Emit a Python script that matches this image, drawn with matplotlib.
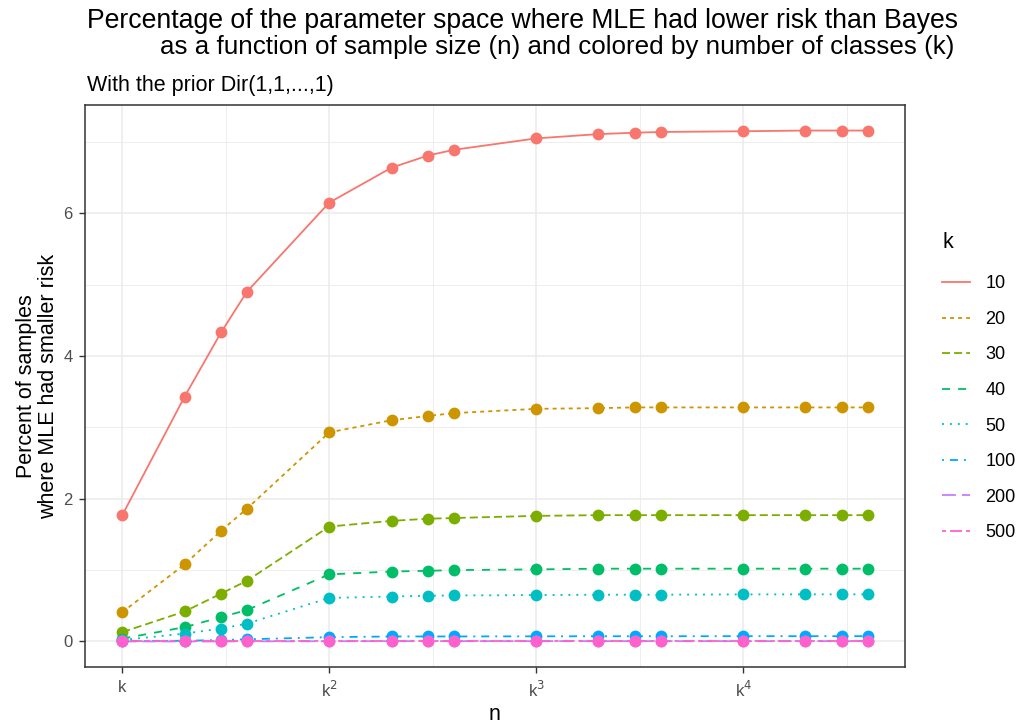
import numpy as np
import matplotlib
matplotlib.use("Agg")
import matplotlib.pyplot as plt

plt.rcParams['font.family'] = ['Liberation Sans', 'DejaVu Sans']
plt.rcParams['lines.scale_dashes'] = False

# n = m * k^p  (m = 1..4, p = 1..4), shown on a log scale with k = 10
n = [10, 20, 30, 40, 100, 200, 300, 400,
     1000, 2000, 3000, 4000, 10000, 20000, 30000, 40000]

k_levels = ['10', '20', '30', '40', '50', '100', '200', '500']

pct_10 = [1.77, 3.43, 4.33, 4.90, 6.15, 6.64, 6.81, 6.89,
          7.05, 7.11, 7.13, 7.14, 7.15, 7.16, 7.16, 7.16]
pct_20 = [0.41, 1.08, 1.55, 1.86, 2.93, 3.10, 3.16, 3.20,
          3.26, 3.27, 3.28, 3.28, 3.28, 3.28, 3.28, 3.28]
pct_30 = [0.13, 0.42, 0.67, 0.85, 1.61, 1.69, 1.72, 1.73,
          1.76, 1.77, 1.77, 1.77, 1.77, 1.77, 1.77, 1.77]
pct_40 = [0.04, 0.20, 0.34, 0.44, 0.94, 0.98, 0.99, 1.00,
          1.01, 1.02, 1.02, 1.02, 1.02, 1.02, 1.02, 1.02]
pct_50 = [0.02, 0.11, 0.18, 0.25, 0.61, 0.63, 0.64, 0.645,
          0.65, 0.655, 0.655, 0.655, 0.66, 0.66, 0.66, 0.66]
pct_100 = [0.005, 0.01, 0.02, 0.03, 0.06, 0.07, 0.07, 0.07,
           0.072, 0.073, 0.073, 0.073, 0.074, 0.074, 0.074, 0.074]
pct_200 = [0.0, 0.0, 0.0, 0.001, 0.003, 0.004, 0.004, 0.004,
           0.004, 0.004, 0.004, 0.004, 0.004, 0.004, 0.004, 0.004]
pct_500 = [0.0] * 16

series = [pct_10, pct_20, pct_30, pct_40, pct_50, pct_100, pct_200, pct_500]

colors = ['#F8766D', '#CD9600', '#7CAE00', '#00BE67',
          '#00BFC4', '#00A9FF', '#C77CFF', '#FF61CC']
dashes = [None, (2.9, 2.9), (5.8, 2.9), (5.8, 5.8), (1.4, 4.3),
          (1.4, 4.3, 5.8, 4.3), (10, 4.3), (2.9, 2.9, 8.6, 2.9)]

fig = plt.figure(figsize=(10.23, 7.25), dpi=100)
ax = fig.add_axes([85/1023, 58/725, 820/1023, 562/725])

lw = 1.3
handles = []
for vals, c, d, lab in zip(series, colors, dashes, k_levels):
    if d is None:
        h, = ax.plot(n, vals, color=c, lw=lw, label=lab, zorder=2)
    else:
        h, = ax.plot(n, vals, color=c, lw=lw, dashes=d, label=lab, zorder=2)
    handles.append(h)
for vals, c in zip(series, colors):
    ax.plot(n, vals, 'o', color=c, ms=8.5, mec='none', zorder=3)

ax.set_xscale('log')
lo, hi = np.log10(n[0]), np.log10(n[-1])
ex = 0.05 * (hi - lo)
ax.set_xlim(10 ** (lo - ex), 10 ** (hi + ex))
ymax = max(pct_10)
ax.set_ylim(-0.05 * ymax, ymax * 1.05)

ax.set_xticks([10, 100, 1000, 10000])
ax.set_xticklabels(['k', 'k$^2$', 'k$^3$', 'k$^4$'])
ax.set_xticks([10 ** 1.5, 10 ** 2.5, 10 ** 3.5, 10 ** 4.5], minor=True)
ax.set_yticks([0, 2, 4, 6])
ax.set_yticks([1, 3, 5, 7], minor=True)
ax.xaxis.set_minor_formatter(matplotlib.ticker.NullFormatter())

ax.grid(which='major', color='#EBEBEB', lw=1.1, zorder=0)
ax.grid(which='minor', color='#EBEBEB', lw=0.6, zorder=0)
ax.set_axisbelow(True)
ax.tick_params(which='major', length=4, width=1, color='#333333',
               labelcolor='#4D4D4D', labelsize=12, pad=5)
ax.tick_params(which='minor', length=0)
for s in ax.spines.values():
    s.set_color('#333333')
    s.set_linewidth(1.1)

ax.set_xlabel('n', fontsize=15.5, labelpad=3)
ax.set_ylabel('Percent of samples\nwhere MLE had smaller risk', fontsize=15.5,
              labelpad=3, linespacing=1.05)

fig.text(87/1023, 1 - 28/725, 'Percentage of the parameter space where MLE had lower risk than Bayes',
         fontsize=19.2, va='baseline', ha='left')
fig.text(160/1023, 1 - 54/725, 'as a function of sample size (n) and colored by number of classes (k)',
         fontsize=18.7, va='baseline', ha='left')
fig.text(87/1023, 1 - 85/725, 'With the prior Dir(1,1,...,1)', fontsize=15.5,
         va='center', ha='left')

leg = fig.legend(handles=handles, title='k', loc='upper left',
                 bbox_to_anchor=(942/1023, 1 - 232/725), frameon=False,
                 fontsize=13, title_fontsize=15.5, handlelength=1.55,
                 labelspacing=1.03, handletextpad=0.85, alignment='left',
                 borderpad=0, borderaxespad=0)
leg._legend_box.sep = 16

fig.savefig('out.png', dpi=100)
